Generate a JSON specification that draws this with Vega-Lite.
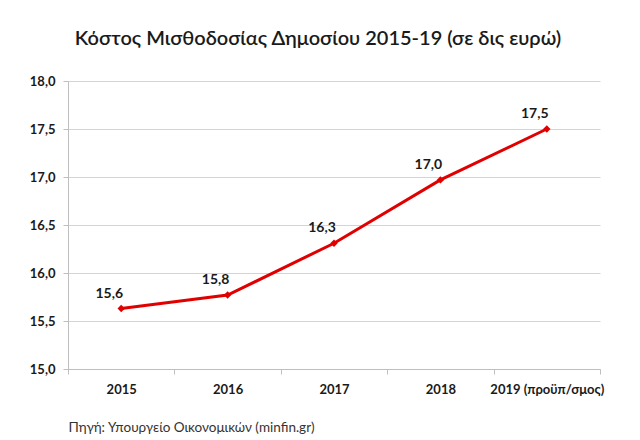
{
  "$schema": "https://vega.github.io/schema/vega-lite/v6.json",
  "autosize": "none",
  "width": 532,
  "height": 288,
  "padding": {"left": 68, "top": 81, "right": 40, "bottom": 71},
  "background": "white",
  "config": {
    "font": "Lato",
    "view": {"stroke": null},
    "locale": {"number": {"decimal": ",", "thousands": ".", "grouping": [3], "currency": ["", " €"]}}
  },
  "title": {
    "text": "Κόστος Μισθοδοσίας  Δημοσίου 2015-19 (σε δις ευρώ)",
    "font": "Lato",
    "fontSize": 20,
    "fontWeight": 600,
    "color": "#1a1a1a",
    "anchor": "middle",
    "frame": "group",
    "dx": -16,
    "offset": 26
  },
  "data": {
    "values": [
      {"year": "2015", "value": 15.63},
      {"year": "2016", "value": 15.77},
      {"year": "2017", "value": 16.31},
      {"year": "2018", "value": 16.97},
      {"year": "2019 (προϋπ/σμος)", "value": 17.5}
    ]
  },
  "encoding": {
    "x": {
      "field": "year",
      "type": "nominal",
      "sort": null,
      "scale": {"paddingInner": 0, "paddingOuter": 0},
      "axis": {
        "title": "Πηγή: Υπουργείο Οικονομικών (minfin.gr)",
        "titleAnchor": "start",
        "titleAlign": "left",
        "titleFontWeight": "normal",
        "titleFontSize": 13.5,
        "titleColor": "#333333",
        "titlePadding": 24,
        "labelAngle": 0,
        "labelFontWeight": "bold",
        "labelFontSize": 13,
        "labelColor": "#1a1a1a",
        "labelPadding": 9,
        "tickBand": "extent",
        "tickColor": "#bfbfbf",
        "tickSize": 5,
        "domainColor": "#bfbfbf",
        "grid": false
      }
    },
    "y": {
      "field": "value",
      "type": "quantitative",
      "scale": {"domain": [15, 18], "nice": false, "zero": false},
      "axis": {
        "title": null,
        "values": [15, 15.5, 16, 16.5, 17, 17.5, 18],
        "format": ".1f",
        "labelFontWeight": "bold",
        "labelFontSize": 13,
        "labelColor": "#1a1a1a",
        "labelPadding": 8,
        "tickColor": "#bfbfbf",
        "tickSize": 5,
        "domainColor": "#bfbfbf",
        "gridColor": "#d4d4d4",
        "gridWidth": 1
      }
    }
  },
  "layer": [
    {"mark": {"type": "line", "color": "#e10000", "strokeWidth": 3}},
    {"mark": {"type": "point", "shape": "diamond", "filled": true, "color": "#e10000", "size": 55, "opacity": 1}},
    {
      "mark": {"type": "text", "dx": -12, "dy": -15, "fontSize": 14, "fontWeight": "bold", "color": "#1a1a1a"},
      "encoding": {"text": {"field": "value", "type": "quantitative", "format": ".1f"}}
    }
  ]
}
